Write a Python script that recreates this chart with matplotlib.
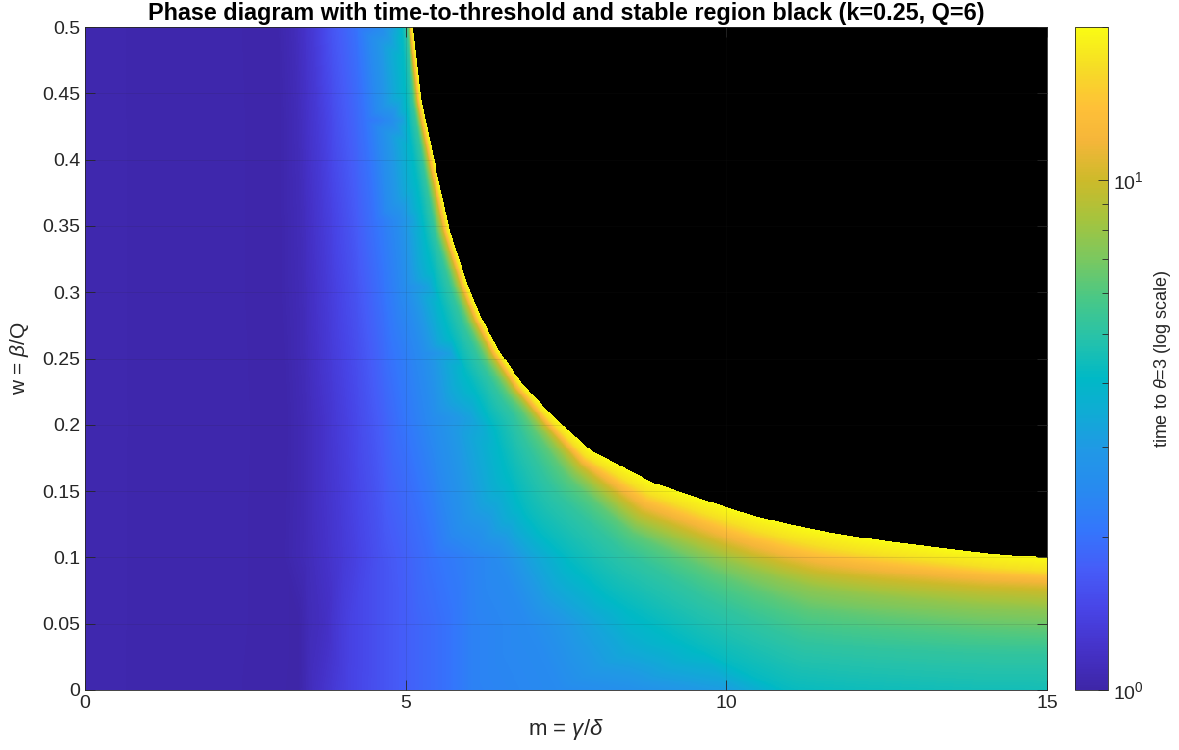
import numpy as np
import matplotlib
matplotlib.use("Agg")
import matplotlib.pyplot as plt
import matplotlib.tri as mtri
from matplotlib.colors import LinearSegmentedColormap, LogNorm

plt.rcParams["font.family"] = ["Liberation Sans", "DejaVu Sans"]
plt.rcParams["mathtext.fontset"] = "custom"
plt.rcParams["mathtext.rm"] = "Liberation Sans"
plt.rcParams["mathtext.it"] = "Liberation Sans:italic"
plt.rcParams["mathtext.bf"] = "Liberation Sans:bold"

# stability boundary: everything above it is the stable (black) region
# (first and last points lie just outside the axes so the edges are covered)
bnd_m = [5.02, 5.11, 5.24, 5.46, 5.69, 5.95, 6.16, 6.45, 6.81, 7.30, 7.87, 8.86, 10.1,
         10.53, 11.04, 11.57, 12.08, 12.51, 13.02, 13.53, 14.07, 15.0, 15.6]
bnd_w = [0.56, 0.5, 0.445, 0.395, 0.345, 0.307, 0.282, 0.256, 0.231, 0.206, 0.181, 0.156,
         0.136, 0.130, 0.124, 0.119, 0.115, 0.112, 0.109, 0.106, 0.103, 0.0995, 0.0975]
T_BOUNDARY = 20.0

# band next to the boundary: distance (px, normal to boundary) of each time level,
# read at a few places along the boundary (given by their m)
band_s = [5.11, 5.3, 5.65, 6.1, 6.65, 7.0, 7.35, 7.7, 8.86, 11.5, 15.0]
band_t = [17, 12.8, 10, 7.7, 6.3, 5.2, 4.2]
band_d_17 = [1.5, 2.0, 2.5, 3.0, 3.2, 4.0, 5.5, 7.5, 12.0, 15.0, 13.5]
band_d_128 = [2.6, 3.5, 4.7, 5.2, 5.8, 7.0, 9.0, 12.0, 22.0, 28.0, 21.5]
band_d_10 = [3.5, 5.0, 6.5, 7.5, 8.5, 10.0, 12.5, 16.0, 32.0, 41.0, 32.0]
band_d_77 = [4.5, 6.5, 9.4, 11.0, 12.5, 14.0, 18.0, 24.0, 45.0, 58.0, 51.0]
band_d_63 = [5.5, 8.0, 12.0, 14.0, 17.0, 19.0, 25.0, 33.0, 55.0, 80.0, 73.0]
band_d_52 = [7.0, 10.0, 15.0, 19.0, 24.0, 28.0, 40.0, 52.0, 75.0, 112.0, 97.0]
band_d_42 = [11.0, 17.0, 24.0, 33.0, 42.0, 50.0, 70.0, 90.0, 120.0, 165.0, 150.0]

# far field: time-to-threshold read along rows of constant w
levels_far = [1.04, 1.02, 1.1, 1.3, 1.6, 2.0, 2.5, 3.2]
w_rows = [0.5, 0.43, 0.354, 0.304, 0.254, 0.205]
m_row_050 = [0, 3.0, 3.25, 3.55, 3.82, 4.22, 4.6, 4.8]
m_row_043 = [0, 3.05, 3.3, 3.62, 3.95, 4.35, 4.75, 4.95]
m_row_035 = [0, 3.05, 3.35, 3.7, 4.1, 4.5, 4.85, 5.1]
m_row_030 = [0, 3.05, 3.38, 3.75, 4.2, 4.62, 4.95, 5.33]
m_row_025 = [0, 3.1, 3.4, 3.8, 4.3, 4.75, 5.22, 5.69]
m_row_020 = [0, 3.15, 3.45, 3.9, 4.4, 4.9, 5.38, 5.99]
m_row_010 = [0, 3.1, 3.45, 4.0, 4.6, 5.4, 6.0, 6.4, 6.9]
t_row_010 = [1.04, 1.02, 1.1, 1.3, 1.6, 2.0, 2.3, 2.5, 3.2]
m_row_005 = [0, 3.1, 3.3, 3.5, 3.7, 4.1, 4.6, 5.1, 5.64, 6.05, 6.9, 7.8]
t_row_005 = [1.04, 1.02, 1.0, 1.1, 1.15, 1.4, 1.6, 1.8, 2.0, 2.3, 2.5, 3.2]
m_row_000 = [0, 3.0, 3.3, 3.55, 4.08, 4.6, 5.1, 5.64, 6.05, 7.4, 8.5, 10.0]
t_row_000 = [1.04, 1.02, 1.0, 1.15, 1.4, 1.6, 1.8, 2.0, 2.3, 2.5, 2.7, 3.1]
extra_m = [8.5]
extra_w = [0.03]
extra_t = [3.5]

# parula-like colormap sampled from the colorbar
parula_pos = [0.0, 0.06, 0.12, 0.18, 0.24, 0.30, 0.36, 0.42, 0.47, 0.53, 0.59,
              0.65, 0.71, 0.77, 0.83, 0.88, 0.94, 1.0]
parula_rgb = [(62, 38, 168), (69, 50, 200), (72, 68, 230), (70, 92, 248), (52, 118, 252),
              (40, 138, 240), (33, 152, 230), (15, 172, 212), (0, 185, 198), (38, 194, 170),
              (72, 200, 135), (122, 200, 96), (165, 196, 62), (205, 186, 42), (245, 182, 58),
              (254, 192, 56), (246, 220, 38), (249, 251, 20)]
parula = LinearSegmentedColormap.from_list(
    "parula", [(p, tuple(c / 255 for c in rgb)) for p, rgb in zip(parula_pos, parula_rgb)])

# pixel size of one unit of m and w in the figure (used to measure distances)
PX_M = 64.13
PX_W = 1326.0
SUBDIV = 12  # sample points per boundary segment for the band


def boundary_frame():
    # boundary polyline in pixels, sampled finely, with smooth inward normals
    bx = np.array(bnd_m) * PX_M
    by = np.array(bnd_w) * PX_W
    tx, ty = np.gradient(bx), np.gradient(by)
    n = np.hypot(tx, ty)
    nx, ny = ty / n, -tx / n
    idx = np.arange(len(bx))
    f = np.linspace(0, len(bx) - 1, (len(bx) - 1) * SUBDIV + 1)
    sx, sy = np.interp(f, idx, bx), np.interp(f, idx, by)
    snx, sny = np.interp(f, idx, nx), np.interp(f, idx, ny)
    sn = np.hypot(snx, sny)
    return sx, sy, snx / sn, sny / sn


def collect_points():
    pm, pw, pt = [], [], []
    rows = [m_row_050, m_row_043, m_row_035, m_row_030, m_row_025, m_row_020]
    for w, ms in zip(w_rows, rows):
        pm += ms
        pw += [w] * len(ms)
        pt += levels_far
    for w, ms, ts in [(0.1, m_row_010, t_row_010), (0.05, m_row_005, t_row_005),
                      (0.0, m_row_000, t_row_000)]:
        pm += ms
        pw += [w] * len(ms)
        pt += ts
    pm += extra_m
    pw += extra_w
    pt += extra_t

    sx, sy, nx, ny = boundary_frame()
    s = sx / PX_M
    pm += list(s)
    pw += list(sy / PX_W)
    pt += [T_BOUNDARY] * len(s)
    band_d = [band_d_17, band_d_128, band_d_10, band_d_77, band_d_63, band_d_52, band_d_42]
    for t, ds in zip(band_t, band_d):
        d = np.interp(s, band_s, ds)
        pm += list((sx + d * nx) / PX_M)
        pw += list((sy + d * ny) / PX_W)
        pt += [t] * len(s)
    return np.array(pm, float), np.array(pw, float), np.array(pt, float)


pm, pw, pt = collect_points()
px, py = np.round(pm * PX_M, 3), np.round(pw * PX_W, 3)
_, keep = np.unique(np.c_[px, py], axis=0, return_index=True)
keep = np.sort(keep)
tri = mtri.Triangulation(px[keep], py[keep])
# drop degenerate (zero-area) triangles so the tri finder accepts the mesh
xt, yt_ = tri.x[tri.triangles], tri.y[tri.triangles]
area = 0.5 * np.abs((xt[:, 1] - xt[:, 0]) * (yt_[:, 2] - yt_[:, 0])
                    - (xt[:, 2] - xt[:, 0]) * (yt_[:, 1] - yt_[:, 0]))
tri.set_mask(area < 1e-6)
interp = mtri.LinearTriInterpolator(tri, np.log10(pt[keep]))

mg = np.linspace(0, 15, 1000)
wg = np.linspace(0, 0.5, 700)
M, W = np.meshgrid(mg, wg)
Z = interp(M * PX_M, W * PX_W)
stable = W > np.interp(M, bnd_m, bnd_w)
Z = np.ma.masked_where(np.ma.getmaskarray(Z) | stable, Z)
T = np.ma.power(10.0, Z)

fig = plt.figure(figsize=(11.79, 7.5), dpi=100)
ax = fig.add_axes([0.0721, 0.08, 0.8160, 0.884])
ax.set_facecolor("black")
im = ax.imshow(T, extent=(0, 15, 0, 0.5), origin="lower", aspect="auto",
               cmap=parula, norm=LogNorm(vmin=1, vmax=20), interpolation="nearest")

ax.set_xlim(0, 15)
ax.set_ylim(0, 0.5)
ax.set_xticks([0, 5, 10, 15])
yt = np.arange(0, 0.51, 0.05)
ax.set_yticks(yt)
ax.set_yticklabels(["0" if v == 0 else f"{v:g}" for v in np.round(yt, 2)])
ax.tick_params(direction="in", length=7, width=0.6, top=True, right=True,
               labelsize=14, colors="#262626")
ax.grid(True, color="#262626", alpha=0.15, lw=0.5)
ax.set_axisbelow(False)
for s in ax.spines.values():
    s.set_color("#262626")
    s.set_linewidth(0.6)

ax.set_xlabel(r"m = $\gamma/\delta$", fontsize=16, color="#262626", labelpad=4)
ax.set_ylabel(r"w = $\beta$/Q", fontsize=15, color="#262626", labelpad=8)
ax.set_title("Phase diagram with time-to-threshold and stable region black (k=0.25, Q=6)",
             fontsize=16.8, fontweight="bold", pad=5)

cax = fig.add_axes([0.912, 0.08, 0.028, 0.884])
cb = fig.colorbar(im, cax=cax)
cb.outline.set_edgecolor("#262626")
cb.outline.set_linewidth(0.6)
cax.tick_params(which="both", direction="in", colors="#262626", labelsize=14)
cax.tick_params(which="major", length=7, width=0.6)
cax.tick_params(which="minor", length=4, width=0.6)
cb.set_label(r"time to $\theta$=3 (log scale)", fontsize=13, color="#262626", labelpad=6)

fig.savefig("out.png", dpi=100)
